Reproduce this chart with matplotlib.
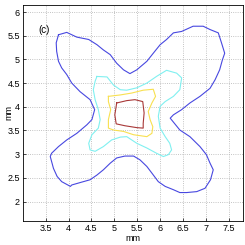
import numpy as np
import matplotlib
matplotlib.use("Agg")
import matplotlib.pyplot as plt

# Contour outlines (mm)
blue_x = [3.78, 3.96, 4.18, 4.44, 4.62, 4.76, 4.91, 5.05, 5.20, 5.34, 5.49, 5.71, 5.85, 6.00,
          6.14, 6.29, 6.47, 6.72, 6.94, 7.09, 7.27, 7.34, 7.41, 7.36, 7.30, 7.20, 7.09, 6.87,
          6.65, 6.47, 6.29, 6.22, 6.43, 6.65, 6.87, 7.01, 7.09, 7.16, 7.10, 6.98, 6.80, 6.58,
          6.43, 6.29, 6.11, 5.96, 5.82, 5.71, 5.56, 5.42, 5.23, 5.05, 4.91, 4.76, 4.62, 4.47,
          4.25, 4.07, 4.04, 3.85, 3.75, 3.67, 3.60, 3.63, 3.78, 3.96, 4.18, 4.40, 4.51, 4.57,
          4.47, 4.25, 4.07, 3.96, 3.85, 3.78, 3.74, 3.73, 3.78]
blue_y = [5.52, 5.57, 5.47, 5.42, 5.31, 5.20, 5.10, 4.92, 4.78, 4.70, 4.78, 4.96, 5.13, 5.31,
          5.42, 5.56, 5.59, 5.70, 5.70, 5.63, 5.56, 5.35, 5.13, 4.99, 4.78, 4.57, 4.39, 4.22,
          4.08, 3.94, 3.83, 3.76, 3.51, 3.37, 3.16, 2.99, 2.81, 2.67, 2.46, 2.28, 2.21, 2.19,
          2.19, 2.25, 2.32, 2.42, 2.60, 2.74, 2.88, 2.96, 2.96, 2.92, 2.81, 2.67, 2.56, 2.46,
          2.40, 2.35, 2.32, 2.42, 2.53, 2.70, 2.95, 3.02, 3.16, 3.30, 3.44, 3.62, 3.73, 3.94,
          4.15, 4.32, 4.50, 4.68, 4.82, 4.96, 5.17, 5.35, 5.52]

cyan_x = [4.62, 4.84, 4.98, 5.13, 5.27, 5.49, 5.71, 5.92, 6.14, 6.36, 6.47, 6.43, 6.29, 6.11,
          6.00, 5.96, 6.00, 6.11, 6.21, 6.25, 6.18, 6.07, 5.92, 5.71, 5.49, 5.27, 5.13, 4.94,
          4.76, 4.58, 4.47, 4.44, 4.51, 4.65, 4.69, 4.65, 4.58, 4.54, 4.58, 4.62]
cyan_y = [4.64, 4.63, 4.46, 4.36, 4.35, 4.40, 4.50, 4.64, 4.77, 4.71, 4.61, 4.36, 4.22, 4.11,
          4.01, 3.80, 3.55, 3.37, 3.23, 3.09, 2.99, 2.95, 3.02, 3.13, 3.23, 3.37, 3.36, 3.30,
          3.16, 3.06, 3.09, 3.23, 3.41, 3.55, 3.73, 3.94, 4.15, 4.36, 4.54, 4.64]

yellow_x = [4.87, 5.13, 5.38, 5.63, 5.85, 5.90, 5.82, 5.74, 5.78, 5.84, 5.82, 5.71, 5.42, 5.20,
            4.98, 4.87, 4.87, 4.92, 4.87, 4.87]
yellow_y = [4.22, 4.25, 4.29, 4.35, 4.37, 4.22, 4.08, 3.90, 3.73, 3.58, 3.44, 3.37, 3.41, 3.48,
            3.51, 3.55, 3.73, 3.94, 4.11, 4.22]

red_x = [5.05, 5.27, 5.45, 5.62, 5.65, 5.63, 5.63, 5.49, 5.23, 5.04, 5.01, 5.04, 5.05]
red_y = [4.08, 4.13, 4.15, 4.11, 3.87, 3.65, 3.55, 3.56, 3.60, 3.64, 3.83, 4.01, 4.08]

x_ticks = [3.5, 4, 4.5, 5, 5.5, 6, 6.5, 7, 7.5]
y_ticks = [2, 2.5, 3, 3.5, 4, 4.5, 5, 5.5, 6]

plt.rcParams['font.family'] = ['Liberation Sans', 'DejaVu Sans']

fig = plt.figure(figsize=(2.45, 2.45), dpi=100)
ax = fig.add_axes([0.093, 0.098, 0.897, 0.882])

ax.plot(blue_x, blue_y, color="#4848e0", lw=0.8)
ax.plot(cyan_x, cyan_y, color="#80f0f0", lw=0.8)
ax.plot(yellow_x, yellow_y, color="#f8e050", lw=0.8)
ax.plot(red_x, red_y, color="#a83838", lw=0.8)

ax.text(3.47, 5.63, "(c)", fontsize=7, ha="center", va="center")

ax.set_xlim(3.0, 7.8)
ax.set_ylim(1.59, 6.15)
ax.set_xticks(x_ticks)
ax.set_yticks(y_ticks)
ax.set_xticklabels([f"{v:g}" for v in x_ticks])
ax.set_yticklabels([f"{v:g}" for v in y_ticks])
ax.tick_params(direction="in", length=2.5, width=0.5, labelsize=6.5, pad=2)
ax.grid(True, linestyle=":", color="#b0b0b0", linewidth=0.6)
for s in ax.spines.values():
    s.set_linewidth(0.6)

ax.set_xlabel("mm", fontsize=6.5, labelpad=1)
ax.set_ylabel("mm", fontsize=6.5, va="center")
ax.yaxis.set_label_coords(-0.065, 0.5)

fig.savefig("out.png", dpi=100)
